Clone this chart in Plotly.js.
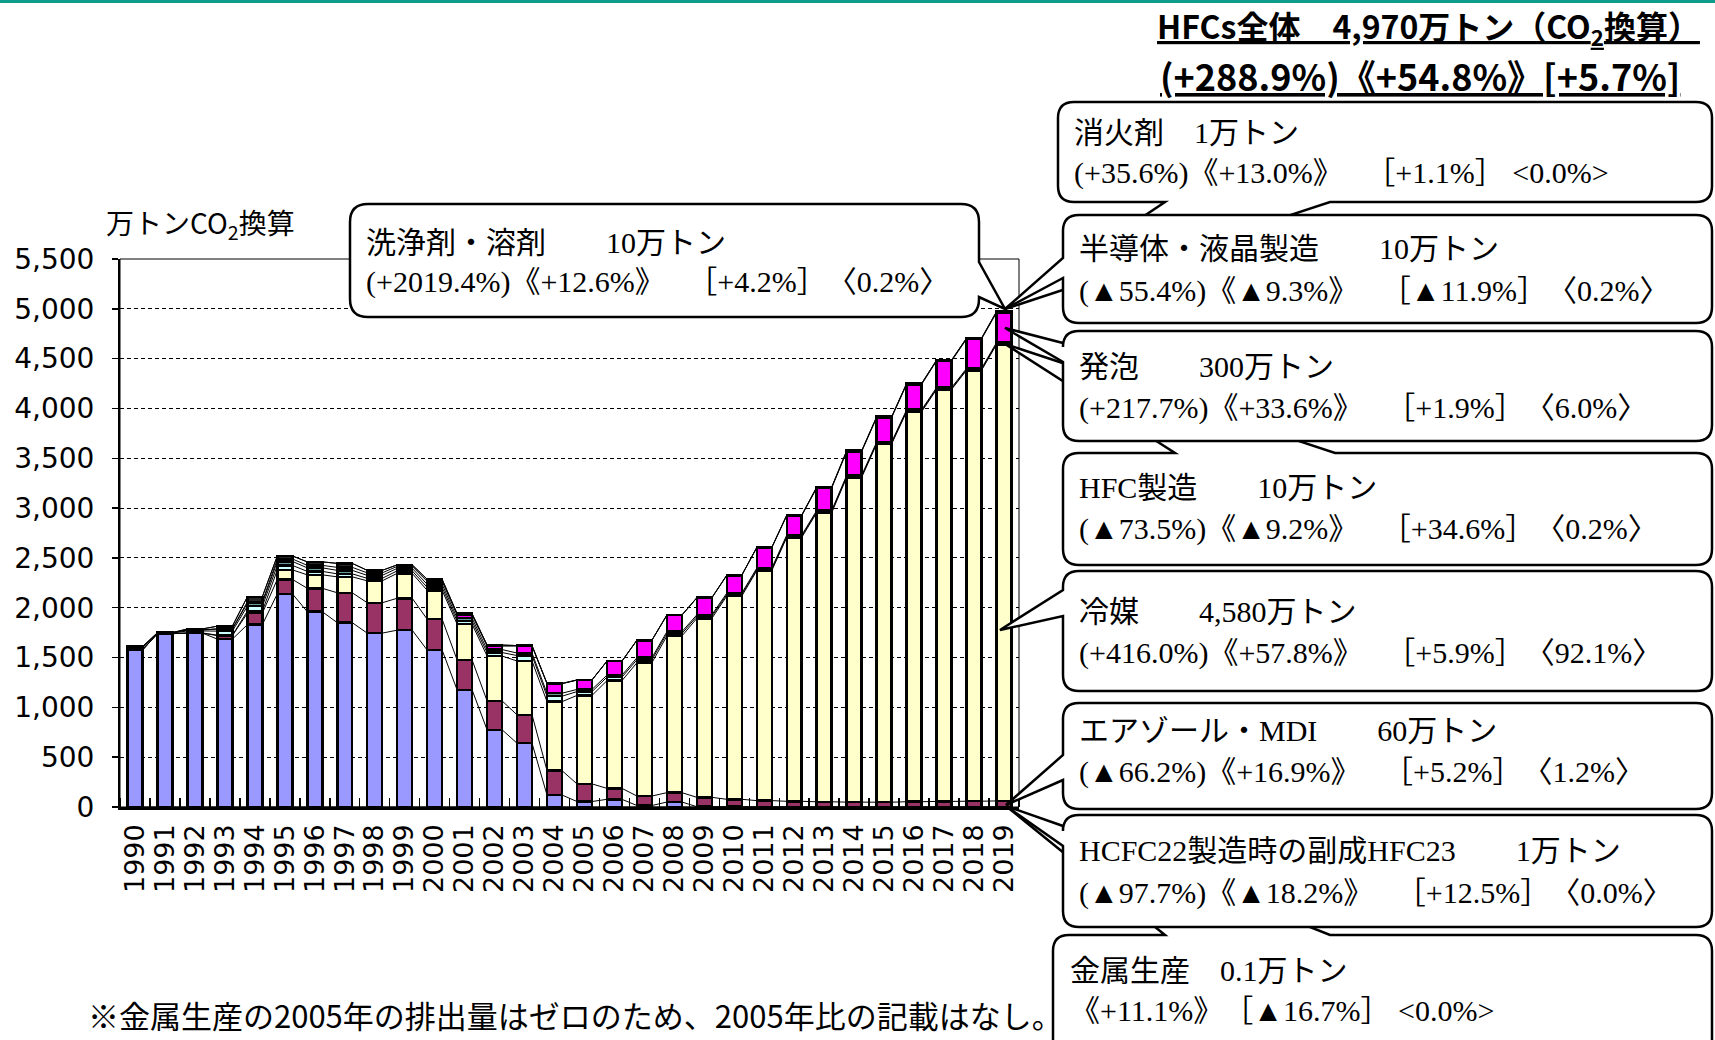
<!DOCTYPE html>
<html><head><meta charset="utf-8">
<script src="https://cdn.plot.ly/plotly-3.0.1.min.js"></script>
<style>body{margin:0;background:#fff}#chart{width:1715px;height:1040px}</style>
</head><body><div id="chart"></div>
<script>
const years = [1990,1991,1992,1993,1994,1995,1996,1997,1998,1999,2000,2001,2002,2003,2004,2005,2006,2007,2008,2009,2010,2011,2012,2013,2014,2015,2016,2017,2018,2019];
const metal       = [0,0,0,0,0,0,0,0,0,0,0,0,0,0,0,0,0,0,0,0,0.05,0.06,0.08,0.09,0.1,0.1,0.11,0.11,0.12,0.1];
const hcfc22      = [1575,1740,1745,1685,1830,2140,1960,1850,1745,1775,1575,1175,775,640,120,55,77,15,50,3,3,2,2,1.2,1,1,1,1,0.9,1];
const aerosol     = [0,0,0,35,115,145,235,300,305,320,310,300,290,285,245,177,110,95,94,94,74,62,55,51,48,47,52,55,57,60];
const refrigerant = [0,0,2,5,20,95,135,160,220,250,290,360,450,540,692,888,1081,1338,1572,1796,2040,2308,2649,2902,3259,3595,3914,4135,4325,4580];
const hfcMfg      = [20,5,20,40,50,45,35,30,25,25,30,30,35,55,55,38,35,30,25,20,15,12,11,11,10,9,9,8,7.4,10];
const semicon     = [5,5,10,20,30,40,35,35,30,25,30,30,30,25,30,22,20,20,18,16,15,13,12,11,11,11,11,11,11.3,10];
const foam        = [0,0,0,5,15,25,25,30,25,20,30,30,35,70,95,94,140,175,166,170,178,205,195,225,237,244,254,266,294,300];
const solvent     = [10,0,10,25,50,30,35,40,25,15,20,15,10,5,3,0.47,0.5,1,1,1,2,3,5,8.9,9,9,9,9,9.6,10];
const fireExt     = [0,0,0,0,0,0,0.1,0.2,0.2,0.3,0.3,0.4,0.4,0.5,0.6,0.74,0.8,0.8,0.8,0.9,0.9,0.9,0.9,0.9,0.9,1,1,1,1,1];

const seriesNames = ['金属生産','HCFC22製造時の副成HFC23','エアゾール・MDI','冷媒','HFC製造','半導体・液晶製造','発泡','洗浄剤・溶剤','消火剤'];
const seriesData  = [metal,hcfc22,aerosol,refrigerant,hfcMfg,semicon,foam,solvent,fireExt];
const seriesColors = ['#808080','#9999FF','#993366','#FFFFCC','#CCFFFF','#669999','#FF00FF','#262626','#C4D79B'];

const yTickVals = [0,500,1000,1500,2000,2500,3000,3500,4000,4500,5000,5500];

const titleLine1 = '<b><u>HFCs全体\u30004,970万トン（CO<sub>2</sub>換算）</u></b>';
const titleLine2 = '<b><u>(+288.9%)《+54.8%》[+5.7%]</u></b>';
const yUnit = '万トンCO<sub>2</sub>換算';
const footnote = '※金属生産の2005年の排出量はゼロのため、2005年比の記載はなし。';

const S2 = '\u3000\u3000';
const G = '\u3000 ';
const G2 = '\u3000';
const calloutTexts = {
  fire:    ['消火剤\u30001万トン', '(+35.6%)《+13.0%》\u3000 ［+1.1%］ <0.0%>'],
  semi:    ['半導体・液晶製造' + S2 + '10万トン', '(▲55.4%)《▲9.3%》' + G + '［▲11.9%］' + G2 + '〈0.2%〉'],
  foam:    ['発泡' + S2 + '300万トン', '(+217.7%)《+33.6%》' + G + '［+1.9%］' + G2 + '〈6.0%〉'],
  hfc:     ['HFC製造' + S2 + '10万トン', '(▲73.5%)《▲9.2%》' + G + '［+34.6%］' + G2 + '〈0.2%〉'],
  refr:    ['冷媒' + S2 + '4,580万トン', '(+416.0%)《+57.8%》' + G + '［+5.9%］' + G2 + '〈92.1%〉'],
  aero:    ['エアゾール・MDI' + S2 + '60万トン', '(▲66.2%)《+16.9%》' + G + '［+5.2%］' + G2 + '〈1.2%〉'],
  hcfc:    ['HCFC22製造時の副成HFC23' + S2 + '1万トン', '(▲97.7%)《▲18.2%》' + G + '［+12.5%］' + G2 + '〈0.0%〉'],
  metal:   ['金属生産\u30000.1万トン', '《+11.1%》\u3000［▲16.7%］ <0.0%>'],
  solv:    ['洗浄剤・溶剤' + S2 + '10万トン', '(+2019.4%)《+12.6%》' + G + '［+4.2%］' + G2 + '〈0.2%〉']
};

// ---- geometry helpers (pixel -> paper) ----
const L = 120, R = 1019, T = 259, B = 807;
const W = R - L, H = B - T;
const px = v => ((v - L) / W).toFixed(5);
const py = v => ((B - v) / H).toFixed(5);
const P = (x, y) => px(x) + ',' + py(y);

function bubble(o) {
  const {x0, y0, x1, y1, r, edge, a, b, tx, ty} = o;
  let d = 'M' + P(x0 + r, y0);
  if (edge === 'top') d += 'L' + P(a, y0) + 'L' + P(tx, ty) + 'L' + P(b, y0);
  d += 'L' + P(x1 - r, y0) + 'Q' + P(x1, y0) + ' ' + P(x1, y0 + r);
  if (edge === 'right') d += 'L' + P(x1, a) + 'L' + P(tx, ty) + 'L' + P(x1, b);
  d += 'L' + P(x1, y1 - r) + 'Q' + P(x1, y1) + ' ' + P(x1 - r, y1);
  if (edge === 'bottom') d += 'L' + P(b, y1) + 'L' + P(tx, ty) + 'L' + P(a, y1);
  d += 'L' + P(x0 + r, y1) + 'Q' + P(x0, y1) + ' ' + P(x0, y1 - r);
  if (edge === 'left') d += 'L' + P(x0, b) + 'L' + P(tx, ty) + 'L' + P(x0, a);
  d += 'L' + P(x0, y0 + r) + 'Q' + P(x0, y0) + ' ' + P(x0 + r, y0) + 'Z';
  return {type: 'path', xref: 'paper', yref: 'paper', path: d, fillcolor: '#FFFFFF',
          line: {color: '#000000', width: 2.5}, layer: 'above'};
}

// ---- traces ----
const BW = 0.5;
const traces = seriesData.map((vals, k) => ({
  type: 'bar', x: years, y: vals, name: seriesNames[k], width: BW,
  marker: {color: seriesColors[k], line: {color: '#000000', width: 2.5}},
  hoverinfo: 'skip', showlegend: false
}));

// series lines (Excel style) connecting cumulative tops between bars
const cum = [];
let run = years.map(() => 0);
seriesData.forEach(vals => { run = run.map((v, i) => v + vals[i]); cum.push(run.slice()); });
cum.forEach(c => {
  const xs = [], ys = [];
  for (let i = 0; i < years.length - 1; i++) {
    xs.push(years[i] + BW / 2, years[i + 1] - BW / 2, null);
    ys.push(c[i], c[i + 1], null);
  }
  traces.push({type: 'scatter', mode: 'lines', x: xs, y: ys,
    line: {color: '#000000', width: 1}, hoverinfo: 'skip', showlegend: false});
});

// ---- shapes ----
const tipTop = [1005, 309];
const shapes = [
  {type: 'line', xref: 'paper', yref: 'paper', x0: px(0), x1: px(1715), y0: py(1.5), y1: py(1.5),
   line: {color: '#0E9C8C', width: 3}},
  {type: 'rect', xref: 'paper', yref: 'paper', x0: 0, x1: 1, y0: 0, y1: 1,
   line: {color: '#000000', width: 1}, layer: 'above'},
  bubble({x0: 1058, y0: 102, x1: 1712, y1: 202, r: 16, edge: 'bottom', a: 1165, b: 1330, tx: tipTop[0], ty: tipTop[1]}),
  bubble({x0: 1063, y0: 215, x1: 1712, y1: 323, r: 16, edge: 'left', a: 258, b: 278, tx: tipTop[0], ty: tipTop[1]}),
  bubble({x0: 1063, y0: 453, x1: 1712, y1: 565, r: 16, edge: 'top', a: 1175, b: 1335, tx: 1005, ty: 344}),
  bubble({x0: 1063, y0: 331, x1: 1712, y1: 441, r: 16, edge: 'left', a: 343, b: 362, tx: 1005, ty: 328}),
  bubble({x0: 1063, y0: 571, x1: 1712, y1: 691, r: 16, edge: 'left', a: 590, b: 616, tx: 1000, ty: 630}),
  bubble({x0: 1053, y0: 935, x1: 1712, y1: 1058, r: 16, edge: 'top', a: 1165, b: 1330, tx: 1006, ty: 806}),
  bubble({x0: 1063, y0: 815, x1: 1712, y1: 927, r: 16, edge: 'left', a: 826, b: 846, tx: 1006, ty: 806}),
  bubble({x0: 1063, y0: 703, x1: 1712, y1: 809, r: 16, edge: 'left', a: 755, b: 780, tx: 1006, ty: 805}),
  bubble({x0: 350, y0: 204, x1: 979, y1: 317, r: 18, edge: 'right', a: 262, b: 297, tx: tipTop[0], ty: tipTop[1]})
];

// ---- annotations ----
const cFont = {family: 'Liberation Serif, "Noto Sans CJK JP", serif', size: 30, color: '#000000'};
function txt(text, x, y, font, extra) {
  return Object.assign({text, xref: 'paper', yref: 'paper', x: px(x), y: py(y),
    xanchor: 'left', yanchor: 'middle', showarrow: false, font}, extra || {});
}
const calloutPos = [
  ['fire', 1072, 132, 173], ['semi', 1077, 249, 291], ['foam', 1077, 367, 408],
  ['hfc', 1077, 488, 529], ['refr', 1077, 611, 653], ['aero', 1077, 730, 772],
  ['hcfc', 1077, 851, 893], ['metal', 1068, 971, 1011], ['solv', 364, 243, 282]
];
const annotations = [];
calloutPos.forEach(([k, x, y1, y2]) => {
  annotations.push(txt(calloutTexts[k][0], x, y1, cFont));
  annotations.push(txt(calloutTexts[k][1], x, y2, cFont));
});
const sansJ = '"Noto Sans CJK JP", "Noto Sans", sans-serif';
annotations.push(txt(titleLine1, 1155, 27, {family: sansJ, size: 32, color: '#000000'}));
annotations.push(txt(titleLine2, 1158, 75, {family: sansJ, size: 36, color: '#000000'}));
annotations.push(txt(yUnit, 104, 224, {family: sansJ, size: 28, color: '#000000'}));
annotations.push(txt(footnote, 86, 1014, {family: sansJ, size: 31, color: '#000000'}));

const layout = {
  width: 1715, height: 1040,
  margin: {l: L, r: 1715 - R, t: T, b: 1040 - B, pad: 0},
  paper_bgcolor: '#FFFFFF', plot_bgcolor: '#FFFFFF',
  barmode: 'stack',
  showlegend: false,
  xaxis: {
    range: [1989.5, 2019.5], tickmode: 'array', tickvals: years, ticktext: years.map(String),
    tickangle: -90, ticks: '', tickfont: {family: 'DejaVu Sans', size: 27, color: '#000000'},
    showline: true, linecolor: '#000000', linewidth: 2.5, showgrid: false, zeroline: false,
    ticklabelstandoff: 4,
    minor: {tickmode: 'linear', tick0: 1989.5, dtick: 1, ticks: 'inside', ticklen: 9, tickwidth: 1.5, tickcolor: '#000000', showgrid: false}
  },
  yaxis: {
    range: [0, 5500], tickmode: 'array', tickvals: yTickVals, tickformat: ',d',
    showgrid: true, gridcolor: '#000000', gridwidth: 1, griddash: '4px,3px',
    ticks: 'outside', ticklen: 6, tickcolor: '#000000', tickwidth: 1.5,
    showline: true, linecolor: '#000000', linewidth: 2, zeroline: false,
    tickfont: {family: 'DejaVu Sans', size: 28, color: '#000000'}, ticklabelstandoff: 12
  },
  shapes, annotations
};

Plotly.newPlot('chart', traces, layout, {staticPlot: true, displayModeBar: false});
</script></body></html>
